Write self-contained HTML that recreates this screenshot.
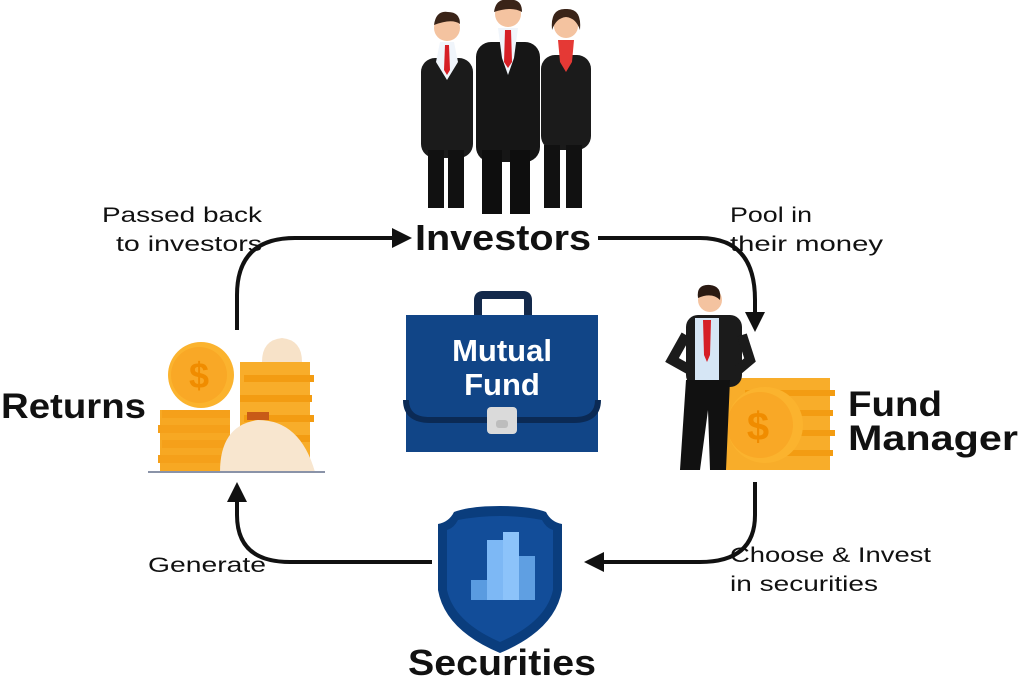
<!DOCTYPE html>
<html><head><meta charset="utf-8"><style>
html,body{margin:0;padding:0;background:#fff;}
svg{display:block;}
text{font-family:"Liberation Sans",sans-serif;fill:#111;}
</style></head><body>
<svg width="1024" height="681" viewBox="0 0 1024 681" xmlns="http://www.w3.org/2000/svg">
<defs>
<marker id="ah" viewBox="0 0 10 10" refX="8" refY="5" markerWidth="5" markerHeight="5" orient="auto"><path d="M0,0 L10,5 L0,10 z" fill="#111"/></marker>
</defs>
<!-- arrows -->
<g fill="none" stroke="#111" stroke-width="4" marker-end="url(#ah)">
<path d="M237,330 L237,295 Q237,238 295,238 L408,238"/>
<path d="M598,238 L700,238 Q755,238 755,300 L755,328"/>
<path d="M755,482 L755,515 Q755,562 700,562 L588,562"/>
<path d="M432,562 L290,562 Q237,562 237,515 L237,486"/>
</g>

<!-- people -->
<g>
 <!-- left person -->
 <rect x="421" y="58" width="52" height="100" rx="14" fill="#1b1b1b"/>
 <rect x="428" y="150" width="16" height="58" fill="#111"/><rect x="448" y="150" width="16" height="58" fill="#111"/>
 <polygon points="440,42 454,42 458,62 447,80 436,62" fill="#f0f5fb"/>
 <polygon points="445,45 449,45 450,70 447,75 444,70" fill="#d61f26"/>
 <circle cx="447" cy="28" r="13" fill="#f4c3a0"/><path d="M434,25 Q436,10 448,12 Q460,12 460,24 Q452,18 434,25z" fill="#3a2418"/>
 <!-- right person (woman) -->
 <rect x="541" y="55" width="50" height="95" rx="14" fill="#1b1b1b"/>
 <rect x="544" y="145" width="16" height="63" fill="#111"/><rect x="566" y="145" width="16" height="63" fill="#111"/>
 <polygon points="558,40 574,40 572,62 566,72 560,62" fill="#e53935"/>
 <circle cx="566" cy="26" r="12" fill="#f4c3a0"/><path d="M552,30 Q550,8 566,9 Q582,8 580,30 Q576,18 566,17 Q556,18 552,30z" fill="#3a2418"/>
 <!-- middle person -->
 <rect x="476" y="42" width="64" height="120" rx="15" fill="#161616"/>
 <rect x="482" y="150" width="20" height="64" fill="#0e0e0e"/><rect x="510" y="150" width="20" height="64" fill="#0e0e0e"/>
 <polygon points="498,28 518,28 514,58 508,75 502,58" fill="#f0f5fb"/>
 <polygon points="505,30 511,30 512,62 508,68 504,62" fill="#d61f26"/>
 <circle cx="508" cy="14" r="13" fill="#f4c3a0"/><path d="M494,12 Q496,-2 508,0 Q522,-2 522,12 Q512,6 494,12z" fill="#3a2418"/>
</g>

<!-- briefcase -->
<g>
 <path d="M478,322 L478,300 Q478,295 483,295 L523,295 Q528,295 528,300 L528,322" fill="none" stroke="#13294b" stroke-width="8"/>
 <rect x="406" y="315" width="192" height="137" fill="#114587"/>
 <path d="M406,400 Q406,420 430,420 L574,420 Q598,420 598,400" fill="none" stroke="#0b2a55" stroke-width="6"/>
 <rect x="487" y="407" width="30" height="27" rx="4" fill="#dadada"/>
 <rect x="496" y="420" width="12" height="8" rx="3" fill="#bdbdbd"/>
 <text x="502" y="361" text-anchor="middle" font-size="31" font-weight="bold" style="fill:#fff">Mutual</text>
 <text x="502" y="395" text-anchor="middle" font-size="31" font-weight="bold" style="fill:#fff">Fund</text>
</g>

<!-- returns coins -->
<g>
 <rect x="160" y="410" width="70" height="62" fill="#f7a823"/>
 <g fill="#f5a01a"><rect x="162" y="410" width="68" height="8"/><rect x="158" y="425" width="72" height="8"/><rect x="162" y="440" width="68" height="8"/><rect x="158" y="455" width="72" height="8"/></g>
 <circle cx="201" cy="375" r="33" fill="#fbb32e"/><circle cx="199" cy="375" r="28" fill="#f9a826"/>
 <text x="199" y="388" text-anchor="middle" font-size="36" font-weight="bold" style="fill:#f08c00">$</text>
 <rect x="240" y="362" width="70" height="110" fill="#f8ad2a"/>
 <g fill="#f39c12"><rect x="244" y="375" width="70" height="7"/><rect x="240" y="395" width="72" height="7"/><rect x="244" y="415" width="70" height="7"/><rect x="240" y="435" width="70" height="7"/></g>
 <path d="M262,362 Q262,340 282,338 Q302,340 302,362z" fill="#f7e2c8"/>
 <path d="M220,472 Q220,425 258,420 Q300,420 315,472z" fill="#f8e6cf"/>
 <rect x="247" y="412" width="22" height="8" fill="#c85a17"/>
 <line x1="148" y1="472" x2="325" y2="472" stroke="#8a93a8" stroke-width="2"/>
</g>

<!-- fund manager -->
<g>
 <rect x="722" y="378" width="108" height="92" fill="#f8ad2a"/>
 <g fill="#f39c12"><rect x="745" y="390" width="90" height="6"/><rect x="745" y="410" width="88" height="6"/><rect x="745" y="430" width="90" height="6"/><rect x="745" y="450" width="88" height="6"/></g>
 <circle cx="765" cy="425" r="38" fill="#fbb32e"/><circle cx="760" cy="425" r="33" fill="#f9a826"/>
 <text x="758" y="440" text-anchor="middle" font-size="40" font-weight="bold" style="fill:#f08c00">$</text>
 <rect x="686" y="315" width="56" height="72" rx="12" fill="#1b1b1b"/>
 <path d="M686,335 L672,360 L690,370" fill="none" stroke="#1b1b1b" stroke-width="10"/>
 <path d="M742,335 L750,360 L738,370" fill="none" stroke="#1b1b1b" stroke-width="10"/>
 <rect x="695" y="318" width="24" height="66" fill="#d6e6f5"/>
 <polygon points="703,320 711,320 710,355 707,362 704,355" fill="#d61f26"/>
 <path d="M686,380 L730,380 L726,470 L710,470 L708,410 L700,470 L680,470z" fill="#111"/>
 <circle cx="710" cy="300" r="12" fill="#f4c3a0"/><path d="M698,298 Q696,284 710,285 Q722,286 720,300 Q712,292 698,298z" fill="#2a1a12"/>
</g>

<!-- shield -->
<g>
 <path d="M454,512 Q470,506 500,506 Q530,506 546,512 Q551,522 562,524 L562,590 Q555,630 500,653 Q445,630 438,590 L438,524 Q449,522 454,512z" fill="#0a3d7d"/>
 <path d="M458,520 Q500,512 542,520 Q546,528 553,530 L553,590 Q546,622 500,642 Q454,622 447,590 L447,530 Q454,528 458,520z" fill="#124d99"/>
 <rect x="471" y="580" width="17" height="20" fill="#5a9be0"/>
 <rect x="487" y="540" width="16" height="60" fill="#7db8f5"/>
 <rect x="503" y="532" width="16" height="68" fill="#8cc3fa"/>
 <rect x="519" y="556" width="16" height="44" fill="#5f9fe2"/>
</g>

<!-- labels -->
<text x="415" y="250" font-size="36" font-weight="bold" textLength="176" lengthAdjust="spacingAndGlyphs">Investors</text>
<text x="1" y="418" font-size="35" font-weight="bold" textLength="145" lengthAdjust="spacingAndGlyphs">Returns</text>
<text x="848" y="416" font-size="35" font-weight="bold" textLength="94" lengthAdjust="spacingAndGlyphs">Fund</text>
<text x="848" y="450" font-size="35" font-weight="bold" textLength="170" lengthAdjust="spacingAndGlyphs">Manager</text>
<text x="408" y="675" font-size="36" font-weight="bold" textLength="188" lengthAdjust="spacingAndGlyphs">Securities</text>

<g font-size="21">
<text x="102" y="222" textLength="160" lengthAdjust="spacingAndGlyphs">Passed back</text>
<text x="116" y="251" textLength="146" lengthAdjust="spacingAndGlyphs">to investors</text>
<text x="730" y="222" textLength="82" lengthAdjust="spacingAndGlyphs">Pool in</text>
<text x="730" y="251" textLength="153" lengthAdjust="spacingAndGlyphs">their money</text>
<text x="730" y="562" textLength="201" lengthAdjust="spacingAndGlyphs">Choose &amp; Invest</text>
<text x="730" y="591" textLength="148" lengthAdjust="spacingAndGlyphs">in securities</text>
<text x="148" y="572" textLength="118" lengthAdjust="spacingAndGlyphs">Generate</text>
</g>
</svg>
</body></html>
